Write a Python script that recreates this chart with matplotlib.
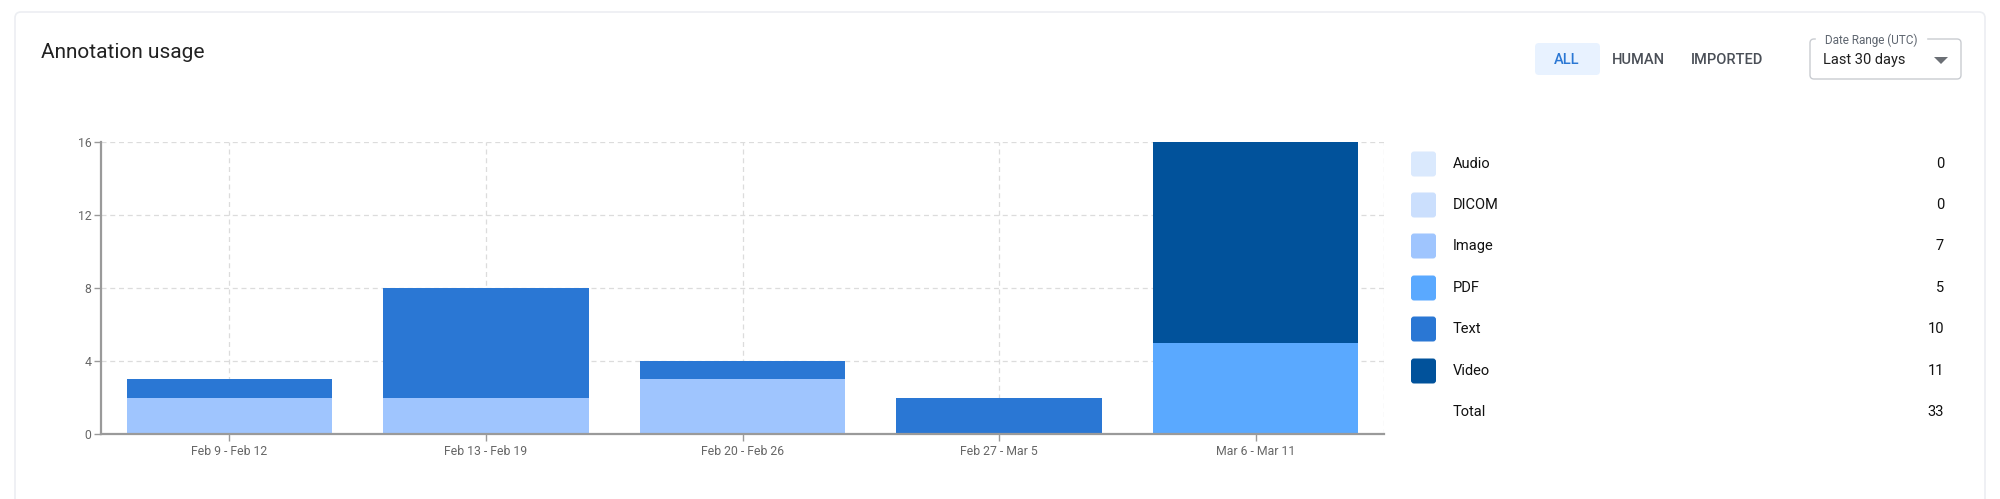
import matplotlib
matplotlib.use("Agg")
import matplotlib.pyplot as plt
from matplotlib.patches import FancyBboxPatch, Polygon
import numpy as np

plt.rcParams['font.family'] = ['Roboto', 'DejaVu Sans']

# ---- data ----
categories = ["Feb 9 - Feb 12", "Feb 13 - Feb 19", "Feb 20 - Feb 26", "Feb 27 - Mar 5", "Mar 6 - Mar 11"]
series_names = ["Audio", "DICOM", "Image", "PDF", "Text", "Video"]
audio = [0, 0, 0, 0, 0]
dicom = [0, 0, 0, 0, 0]
image = [2, 2, 3, 0, 0]
pdf = [0, 0, 0, 0, 5]
text = [1, 6, 1, 2, 0]
video = [0, 0, 0, 0, 11]
series_values = [audio, dicom, image, pdf, text, video]
series_colors = ["#dae9fd", "#cbdffd", "#9fc5fe", "#5aa9ff", "#2a77d4", "#01529b"]
y_ticks = [0, 4, 8, 12, 16]
buttons = ["ALL", "HUMAN", "IMPORTED"]
title = "Annotation usage"
dropdown_label = "Date Range (UTC)"
dropdown_value = "Last 30 days"

W, H = 2000, 499
fig = plt.figure(figsize=(W / 100, H / 100), dpi=100)
fig.patch.set_facecolor("white")

# overlay in pixel coords
ov = fig.add_axes([0, 0, 1, 1], zorder=0)
ov.set_xlim(0, W)
ov.set_ylim(H, 0)
ov.axis("off")

# card
ov.add_patch(FancyBboxPatch((15, 12), 1970, 560, boxstyle="round,pad=0,rounding_size=6",
                            facecolor="white", edgecolor="#eceef2", linewidth=1.2))
ov.text(41, 52, title, fontsize=15, color="#222222", va="center", ha="left", fontweight="normal")

# buttons
ov.add_patch(FancyBboxPatch((1535, 43), 65, 32, boxstyle="round,pad=0,rounding_size=4",
                            facecolor="#e8f2ff", edgecolor="none"))
btn_x = [1567, 1638, 1727]
for b, x in zip(buttons, btn_x):
    ov.text(x, 60, b, fontsize=10.5, ha="center", va="center",
            color="#2a77d4" if b == "ALL" else "#4a4f57", fontweight="medium")

# dropdown
ov.add_patch(FancyBboxPatch((1810, 39), 151, 40, boxstyle="round,pad=0,rounding_size=4",
                            facecolor="white", edgecolor="#c9ccd1", linewidth=1.0))
ov.text(1822, 40, " " + dropdown_label + " ", fontsize=8.5, ha="left", va="center",
        color="#5f6670", backgroundcolor="white")
ov.text(1823, 60, dropdown_value, fontsize=10.5, ha="left", va="center", color="#1f1f1f")
ov.add_patch(Polygon([[1934, 57], [1948, 57], [1941, 64]], closed=True, facecolor="#6b6f75", edgecolor="none"))

# ---- chart ----
L, R, T, B = 101, 1384, 142, 434
ax = fig.add_axes([L / W, 1 - B / H, (R - L) / W, (B - T) / H], zorder=1)
ax.patch.set_alpha(0)
x = np.arange(len(categories))
bottom = np.zeros(len(categories))
for name, vals, col in zip(series_names, series_values, series_colors):
    v = np.array(vals, dtype=float)
    ax.bar(x, v, width=0.8, bottom=bottom, color=col, linewidth=0, zorder=3, label=name)
    bottom += v

ax.set_xlim(-0.5, len(categories) - 0.5)
ax.set_ylim(0, 16)
ax.set_yticks(y_ticks)
ax.set_xticks(x)
ax.set_xticklabels(categories)
ax.grid(True, color="#dcdcdc", linestyle=(0, (4, 3)), linewidth=0.9, zorder=0)
ax.axvline(len(categories) - 0.5, color="#dcdcdc", linestyle=(0, (4, 3)), linewidth=0.9, zorder=0)
for s in ["top", "right"]:
    ax.spines[s].set_visible(False)
for s in ["left", "bottom"]:
    ax.spines[s].set_color("#9a9a9a")
    ax.spines[s].set_linewidth(1.6)
    ax.spines[s].set_zorder(4)
ax.tick_params(axis="both", colors="#9a9a9a", labelcolor="#666666", labelsize=8.8, length=5, width=1)
ax.tick_params(axis="y", pad=2)
ax.tick_params(axis="x", pad=3)

# ---- legend ----
rows_y = [164, 205, 246, 288, 329, 371]
totals = [int(sum(v)) for v in series_values]
for name, col, yy, tot in zip(series_names, series_colors, rows_y, totals):
    ov.add_patch(FancyBboxPatch((1411, yy - 12.5), 25, 25, boxstyle="round,pad=0,rounding_size=3",
                                facecolor=col, edgecolor="none"))
    ov.text(1453, yy, name, fontsize=10.5, ha="left", va="center", color="#111111", fontweight="normal")
    ov.text(1944, yy, str(tot), fontsize=10.5, ha="right", va="center", color="#111111", fontweight="normal")
ov.text(1453, 412, "Total", fontsize=10.5, ha="left", va="center", color="#111111", fontweight="normal")
ov.text(1944, 412, str(sum(totals)), fontsize=10.5, ha="right", va="center", color="#111111", fontweight="normal")

fig.savefig("out.png", dpi=100, facecolor="white")
